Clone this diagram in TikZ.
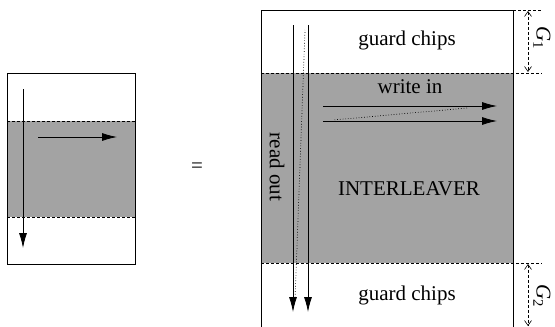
\documentclass[tikz,border=0pt]{standalone}
\usepackage{fontspec}
\setmainfont{Liberation Serif}
\usetikzlibrary{arrows.meta}
\begin{document}
\begin{tikzpicture}[x=1pt,y=-1pt,
  shadefill/.style={fill=black!36},
  frame/.style={draw=black,line width=0.8pt},
  band/.style={line width=0.7pt,dash pattern=on 3pt off 2pt},
  flow/.style={line width=0.8pt,-{Latex[length=15pt,width=8pt]}},
  retrace/.style={line width=0.7pt,dotted},
  dimline/.style={line width=0.6pt,dash pattern=on 3pt off 2pt,{Straight Barb[length=5pt,width=7pt]}-{Straight Barb[length=5pt,width=7pt]}},
  lbl/.style={font=\fontsize{21}{24}\selectfont,inner sep=0pt}]
\useasboundingbox (0,0) rectangle (555,327);
% left box
\fill[shadefill] (7,121) rectangle (135,217);
\draw[band] (7,121) -- (135,121);
\draw[band] (7,217) -- (135,217);
\draw[frame] (7,73) rectangle (135,264);
\coordinate (la1) at (23,89);
\coordinate (la2) at (23,248);
\coordinate (lb1) at (38,137);
\coordinate (lb2) at (117,137);
\draw[flow] (la1) -- (la2);
\draw[flow] (lb1) -- (lb2);
% equals
\node[lbl] (eq) at (197,168) {=};
% right box
\fill[shadefill] (261,73) rectangle (513,263);
\draw[band] (261,73) -- (542,73);
\draw[band] (261,263) -- (542,263);
\draw[band] (513,10) -- (542,10);
\draw[frame] (261,327) -- (261,10) -- (513,10) -- (513,327);
% read out arrows
\coordinate (r1s) at (293,25);
\coordinate (r1e) at (293,312);
\coordinate (r2s) at (308,25);
\coordinate (r2e) at (308,312);
\draw[flow] (r1s) -- (r1e);
\draw[flow] (r2s) -- (r2e);
\draw[retrace] ([xshift=2pt,yshift=12pt]r1e) -- ([xshift=-3pt,yshift=-5pt]r2s);
% write in arrows
\coordinate (w1s) at (323,106);
\coordinate (w1e) at (497,106);
\coordinate (w2s) at (323,121);
\coordinate (w2e) at (497,121);
\draw[flow] (w1s) -- (w1e);
\draw[flow] (w2s) -- (w2e);
\draw[retrace] ([xshift=-30pt,yshift=-2pt]w1e) -- ([xshift=10pt,yshift=1pt]w2s);
% texts
\node[lbl] (g1) at (407,40) {guard chips};
\node[lbl] (g2) at (407,295) {guard chips};
\node[lbl] (wi) at (410,87) {write in};
\node[lbl] (il) at (409,189) {INTERLEAVER};
\node[lbl,rotate=-90] (ro) at (277,167) {read out};
% guard sizes
\coordinate (d1a) at (528,11);
\coordinate (d1b) at (528,72);
\coordinate (d2a) at (528,264);
\coordinate (d2b) at (528,326);
\draw[dimline] (d1a) -- (d1b);
\draw[dimline] (d2a) -- (d2b);
\node[lbl,rotate=-90] (G1) at (542,38) {\itshape G\textsubscript{\upshape 1}};
\node[lbl,rotate=-90] (G2) at (542,296) {\itshape G\textsubscript{\upshape 2}};
\end{tikzpicture}
\end{document}
